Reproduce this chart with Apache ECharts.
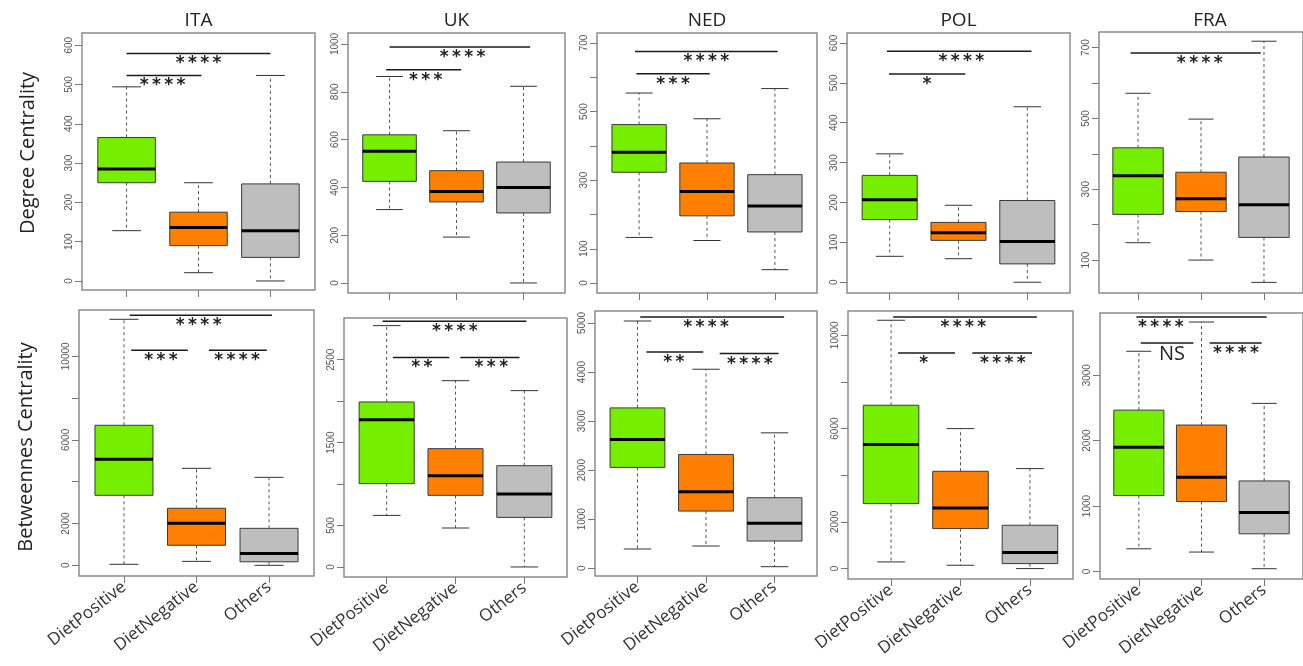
<!DOCTYPE html>
<html><head><meta charset="utf-8">
<script src="https://cdn.jsdelivr.net/npm/echarts@6/dist/echarts.min.js"></script>
<style>html,body{margin:0;padding:0;background:#fff}#c{width:1303px;height:666px}</style>
</head><body><div id="c"></div>
<script>
const countries = ['ITA','UK','NED','POL','FRA'];
const categories = ['DietPositive','DietNegative','Others'];
const rowNames = ['Degree Centrality','Betweennes Centrality'];

// [min, Q1, median, Q3, max] per category
const degreeITA = [[128,250,285,365,494],[21,90,136,175,250],[0,60,128,247,523]];
const degreeUK  = [[307,425,551,620,864],[192,339,383,470,637],[0,293,400,506,823]];
const degreeNED = [[133,323,381,462,554],[124,196,267,350,479],[39,149,225,316,567]];
const degreePOL = [[65,157,207,268,322],[59,105,124,150,193],[0,46,102,205,440]];
const degreeFRA = [[149,229,338,417,571],[100,237,273,348,498],[37,164,256,391,718]];
const betweenITA = [[50,3350,5070,6700,11770],[190,960,2010,2730,4640],[0,170,570,1770,4210]];
const betweenUK  = [[622,1005,1777,1990,2911],[470,864,1101,1427,2247],[0,598,880,1222,2127]];
const betweenNED = [[393,2056,2626,3269,5040],[454,1166,1560,2320,4057],[33,556,916,1438,2761]];
const betweenPOL = [[286,2786,5315,7000,10643],[143,1714,2600,4171,6000],[0,214,686,1857,4286]];
const betweenFRA = [[346,1159,1897,2466,3366],[296,1068,1440,2238,3813],[41,575,900,1383,2569]];

// significance brackets: [from category, to category, height, label, label position]
const sigDegITA = [[0,2,579,'****',1.0],[0,1.04,523,'****',0.5]];
const sigDegUK  = [[0,2.1,987,'****',1.09],[-0.05,1.07,892,'***',0.54]];
const sigDegNED = [[-0.06,2.04,675,'****',0.99],[-0.04,1.04,610,'***',0.5]];
const sigDegPOL = [[-0.04,2.06,579,'****',1.04],[-0.01,1.1,522,'*',0.54]];
const sigDegFRA = [[-0.12,1.95,685,'****',0.98]];
const sigBetITA = [[0.08,2.04,11959,'****',1.03],[0.1,0.88,10287,'***',0.51],[1.17,1.97,10287,'****',1.56]];
const sigBetUK  = [[-0.06,2.03,2963,'****',0.99],[0.09,0.91,2528,'**',0.51],[1.07,1.93,2528,'***',1.52]];
const sigBetNED = [[0.04,2.14,5121,'****',1.0],[0.13,0.96,4409,'**',0.53],[1.2,2.06,4376,'****',1.64]];
const sigBetPOL = [[0.03,2.1,10786,'****',1.04],[0.1,0.92,9243,'*',0.47],[1.17,2.03,9243,'****',1.61]];
const sigBetFRA = [[-0.04,2.04,3890,'****',0.35],[0.03,0.87,3494,'NS',0.53],[1.13,1.96,3494,'****',1.55]];

// y-axis ranges, ticks and tick labels
const rangeDegree  = [[-23,631],[-42,1046],[-29,729],[-27,625],[7,744]];
const rangeBetween = [[-510,12215],[-121,3003],[-157,5244],[-446,11040],[-116,3951]];
const tickDegITA = [0,100,200,300,400,500,600];
const tickDegUK  = [0,200,400,600,800,1000];
const tickDegNED = [0,100,200,300,400,500,600,700];
const tickDegPOL = [0,100,200,300,400,500,600];
const tickDegFRA = [100,200,300,400,500,600,700];
const lblDegNED  = [0,100,300,500,700];
const lblDegFRA  = [100,300,500,700];
const tickBetITA = [0,2000,4000,6000,8000,10000];
const tickBetUK  = [0,500,1000,1500,2000,2500];
const tickBetNED = [0,1000,2000,3000,4000,5000];
const tickBetPOL = [0,2000,4000,6000,8000,10000];
const tickBetFRA = [0,1000,2000,3000];
const lblBetITA  = [0,2000,6000,10000];
const lblBetUK   = [0,500,1500,2500];
const lblBetPOL  = [0,2000,6000,10000];

const boxColors = ['#76EE00','#FF8000','#BEBEBE'];

// panel layout [left, top, width, height]
const layoutTop = [[82,33,233,257],[348,33,217,260],[597,33,220,260],[847,33,223,260],[1099,32,222,261]];
const layoutBottom = [[79,310,235,266],[344,318,223,259],[595,311,222,265],[848,311,225,268],[1100,313,222,266]];

const panels = [
  {row:0, stats:degreeITA, sig:sigDegITA, range:rangeDegree[0], ticks:tickDegITA, labels:tickDegITA},
  {row:0, stats:degreeUK,  sig:sigDegUK,  range:rangeDegree[1], ticks:tickDegUK,  labels:tickDegUK},
  {row:0, stats:degreeNED, sig:sigDegNED, range:rangeDegree[2], ticks:tickDegNED, labels:lblDegNED},
  {row:0, stats:degreePOL, sig:sigDegPOL, range:rangeDegree[3], ticks:tickDegPOL, labels:tickDegPOL},
  {row:0, stats:degreeFRA, sig:sigDegFRA, range:rangeDegree[4], ticks:tickDegFRA, labels:lblDegFRA},
  {row:1, stats:betweenITA, sig:sigBetITA, range:rangeBetween[0], ticks:tickBetITA, labels:lblBetITA},
  {row:1, stats:betweenUK,  sig:sigBetUK,  range:rangeBetween[1], ticks:tickBetUK,  labels:lblBetUK},
  {row:1, stats:betweenNED, sig:sigBetNED, range:rangeBetween[2], ticks:tickBetNED, labels:tickBetNED},
  {row:1, stats:betweenPOL, sig:sigBetPOL, range:rangeBetween[3], ticks:tickBetPOL, labels:lblBetPOL},
  {row:1, stats:betweenFRA, sig:sigBetFRA, range:rangeBetween[4], ticks:tickBetFRA, labels:tickBetFRA}
];

function boxRender(params, api){
  const x = api.value(0), mn = api.value(1), q1 = api.value(2), md = api.value(3), q3 = api.value(4), mx = api.value(5);
  const bl = api.coord([x-0.4, q1]), tr = api.coord([x+0.4, q3]);
  const m = api.coord([x, md]);
  const cMin = api.coord([x, mn]), cMax = api.coord([x, mx]);
  const sL = api.coord([x-0.2, mn])[0], sR = api.coord([x+0.2, mn])[0];
  const wl = {stroke:'#555', lineWidth:1, lineDash:[3,3]};
  const sl = {stroke:'#333', lineWidth:1};
  return {type:'group', children:[
    {type:'line', shape:{x1:m[0], y1:tr[1], x2:m[0], y2:cMax[1]}, style:wl},
    {type:'line', shape:{x1:m[0], y1:bl[1], x2:m[0], y2:cMin[1]}, style:wl},
    {type:'line', shape:{x1:sL, y1:cMax[1], x2:sR, y2:cMax[1]}, style:sl},
    {type:'line', shape:{x1:sL, y1:cMin[1], x2:sR, y2:cMin[1]}, style:sl},
    {type:'rect', shape:{x:bl[0], y:tr[1], width:tr[0]-bl[0], height:bl[1]-tr[1]}, style:{fill:boxColors[Math.round(x)], stroke:'#3a3a3a', lineWidth:1}},
    {type:'line', shape:{x1:bl[0], y1:m[1], x2:tr[0], y2:m[1]}, style:{stroke:'#000', lineWidth:3}}
  ]};
}

function sigRender(sig){
  return function(params, api){
    const b = sig[params.dataIndex];
    const p1 = api.coord([api.value(0), api.value(2)]);
    const p2 = api.coord([api.value(1), api.value(2)]);
    const pt = api.coord([api.value(3), api.value(2)]);
    const ns = b[3] === 'NS';
    const txt = ns ? b[3] : b[3].split('').join('\u2009');
    return {type:'group', children:[
      {type:'line', shape:{x1:p1[0], y1:p1[1], x2:p2[0], y2:p2[1]}, style:{stroke:'#1a1a1a', lineWidth:1.5}},
      {type:'text', x:pt[0], y:pt[1] + (ns ? 1 : 2), style:{
        text:txt, fill:'#222', align:'center', verticalAlign:'top',
        fontSize: ns ? 20 : 17, fontWeight: ns ? 'normal' : 'bold',
        fontFamily: ns ? '"Open Sans", sans-serif' : '"DejaVu Sans", sans-serif'
      }}
    ]};
  };
}

const grids = [], xAxes = [], yAxes = [], series = [];
panels.forEach((p, i) => {
  const col = i % 5;
  const L = p.row === 0 ? layoutTop[col] : layoutBottom[col];
  grids.push({left:L[0], top:L[1], width:L[2], height:L[3], show:true, borderColor:'#8c8c8c', borderWidth:1.5, backgroundColor:'#fff', containLabel:false});
  xAxes.push({
    type:'value', gridIndex:i, min:-0.62, max:2.62, position:'bottom',
    axisLine:{show:false, onZero:false}, splitLine:{show:false},
    axisTick:{show:true, length:7, customValues:[0,1,2], lineStyle:{color:'#777'}},
    axisLabel:{show:p.row === 1, customValues:[0,1,2], rotate:38, margin:9,
      formatter:v => categories[Math.round(v)] || '',
      fontSize:17, fontFamily:'"Open Sans", sans-serif', color:'#333'}
  });
  yAxes.push({
    type:'value', gridIndex:i, min:p.range[0], max:p.range[1], position:'left',
    axisLine:{show:false, onZero:false}, splitLine:{show:false},
    axisTick:{show:true, length:7, customValues:p.ticks, lineStyle:{color:'#777'}},
    axisLabel:{show:true, customValues:p.labels, rotate:90, margin:8,
      formatter:v => String(v),
      fontSize:10, fontFamily:'"Liberation Sans", sans-serif', color:'#555'}
  });
  series.push({
    type:'custom', xAxisIndex:i, yAxisIndex:i, renderItem:boxRender,
    dimensions:['x','min','q1','med','q3','max'],
    encode:{x:0, y:[1,2,3,4,5]},
    data:p.stats.map((s, k) => [k].concat(s)), silent:true
  });
  series.push({
    type:'custom', xAxisIndex:i, yAxisIndex:i, renderItem:sigRender(p.sig),
    dimensions:['x1','x2','y','tx'],
    encode:{x:[0,1,3], y:2},
    data:p.sig.map(b => [b[0], b[1], b[2], b[4]]), silent:true
  });
});

const graphics = [];
countries.forEach((c, i) => {
  const L = layoutTop[i];
  graphics.push({type:'text', x:L[0] + L[2]*(1.62/3.24), y:21, style:{text:c, align:'center', verticalAlign:'middle', fontSize:19, fontFamily:'"Open Sans", sans-serif', fill:'#222'}});
});
graphics.push({type:'text', x:28, y:153, rotation:Math.PI/2, style:{text:rowNames[0], align:'center', verticalAlign:'middle', fontSize:20, fontFamily:'"Open Sans", sans-serif', fill:'#222'}});
graphics.push({type:'text', x:26, y:447, rotation:Math.PI/2, style:{text:rowNames[1], align:'center', verticalAlign:'middle', fontSize:20, fontFamily:'"Open Sans", sans-serif', fill:'#222'}});

const chart = echarts.init(document.getElementById('c'), null, {renderer:'canvas'});
chart.setOption({
  animation:false, backgroundColor:'#fff',
  grid:grids, xAxis:xAxes, yAxis:yAxes, series:series, graphic:graphics
});
</script>
</body></html>
